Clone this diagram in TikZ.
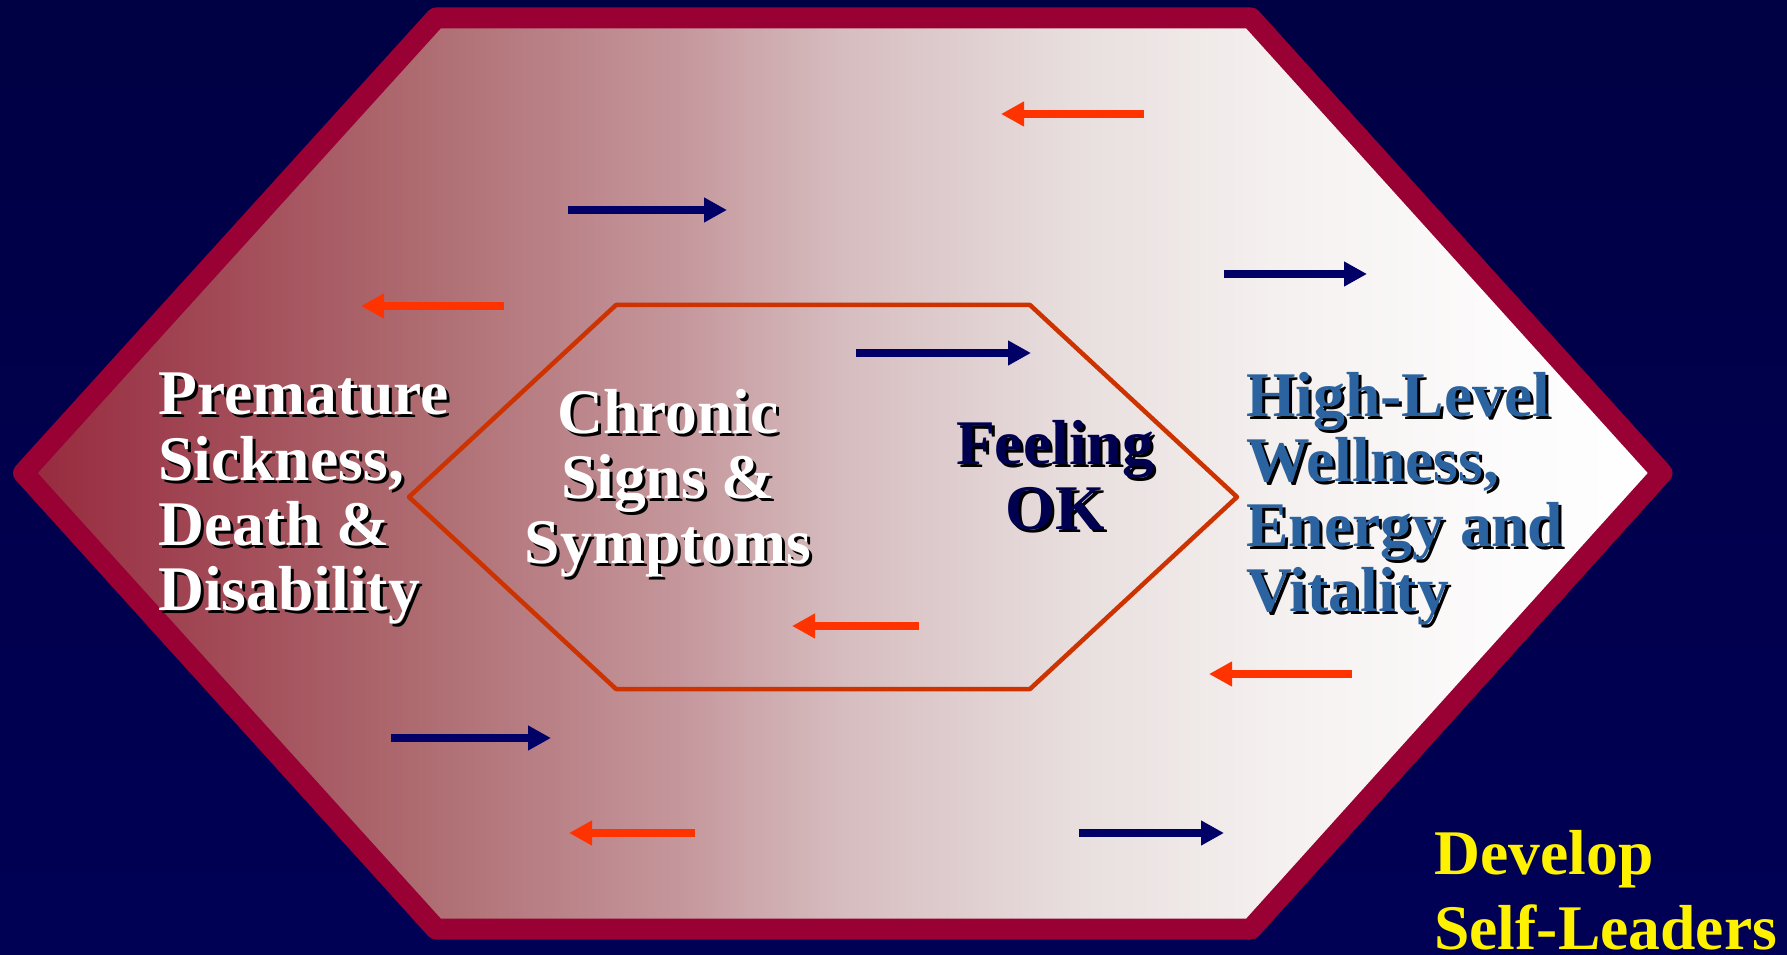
\documentclass[tikz,border=0pt]{standalone}
\usepackage{fontspec}
\setmainfont{Liberation Serif}
\usetikzlibrary{arrows.meta, calc}
\definecolor{bgtop}{RGB}{0,0,68}
\definecolor{bgmid}{RGB}{0,0,32}
\definecolor{bgbot}{RGB}{0,0,85}
\definecolor{rimred}{HTML}{990033}
\definecolor{innerrim}{HTML}{CC3300}
\definecolor{arrred}{HTML}{FF3300}
\definecolor{arrnavy}{HTML}{000066}
\definecolor{wellblue}{HTML}{2B63A0}
\definecolor{oknavy}{HTML}{000050}
% red to white fade of the big hexagon
\pgfdeclarehorizontalshading{hexfade}{100bp}{
    rgb(0bp)=(0.59,0.16,0.24); rgb(25bp)=(0.59,0.16,0.24);
    rgb(37bp)=(0.68,0.42,0.44); rgb(45bp)=(0.77,0.59,0.61);
    rgb(50bp)=(0.84,0.74,0.75); rgb(57bp)=(0.91,0.87,0.87);
    rgb(63bp)=(0.955,0.94,0.935); rgb(70bp)=(0.99,0.985,0.985);
    rgb(75bp)=(1,1,1); rgb(100bp)=(1,1,1)}

\begin{document}
\begin{tikzpicture}[x=0.02cm, y=-0.02cm,
    lbl/.style={font=\bfseries\fontsize{36.2}{37}\selectfont, inner sep=0},
    redarrow/.style={draw=arrred, line width=0.15cm, -{Triangle[length=0.46cm, width=0.47cm]}},
    navyarrow/.style={draw=arrnavy, line width=0.15cm, -{Triangle[length=0.46cm, width=0.47cm]}}]
    \useasboundingbox (0,0) rectangle (1787,955);
    % background
    \shade[top color=bgtop, middle color=bgmid, bottom color=bgbot] (0,0) rectangle (1787,955);

    % outer hexagon
    \path[shade, shading=hexfade, draw=rimred, line width=0.42cm, line join=round]
        (23.5,473) -- (436,18) -- (1251,18) -- (1662,473) -- (1251,929) -- (436,929) -- cycle;

    % inner hexagon
    \draw[line width=0.09cm, draw=innerrim, line join=round]
        (409,497) -- (616,305) -- (1030,305) -- (1237,497) -- (1030,689) -- (616,689) -- cycle;

    % arrows pointing back
    \foreach \i/\xa/\xb/\y in {1/1144/1001/114, 2/504/361/306, 3/919/792/626, 4/1352/1209/674, 5/695/569/833} {
        \coordinate (back\i s) at (\xa,\y);
        \coordinate (back\i e) at (\xb,\y);
        \draw[redarrow] (back\i s) -- (back\i e);
    }
    % arrows pointing ahead
    \foreach \i/\xa/\xb/\y in {1/568/727/210, 2/1224/1367/274, 3/856/1031/353, 4/391/551/738, 5/1079/1224/833} {
        \coordinate (ahead\i s) at (\xa,\y);
        \coordinate (ahead\i e) at (\xb,\y);
        \draw[navyarrow] (ahead\i s) -- (ahead\i e);
    }

    % left stage
    \node[lbl, align=left, anchor=north west, text=black] (premshadow) at (161,376)
        {Premature\\Sickness,\\Death \&\\Disability};
    \node[lbl, align=left, anchor=north west, text=white] (prem) at (158,373)
        {Premature\\Sickness,\\Death \&\\Disability};

    % chronic stage
    \node[lbl, align=center, anchor=north, text=black] (chronshadow) at (671,392)
        {Chronic\\Signs \&\\Symptoms};
    \node[lbl, align=center, anchor=north, text=white] (chron) at (668,389)
        {Chronic\\Signs \&\\Symptoms};

    % feeling ok
    \node[lbl, align=center, anchor=north, text=black] (okshadow) at (1058,423)
        {Feeling\\OK};
    \node[lbl, align=center, anchor=north, text=oknavy] (ok) at (1055,420)
        {Feeling\\OK};

    % right stage
    \node[lbl, align=left, anchor=north west, text=black] (wellshadow) at (1249,375)
        {High-Level\\Wellness,\\Energy and\\Vitality};
    \node[lbl, align=left, anchor=north west, text=wellblue] (well) at (1246,372)
        {High-Level\\Wellness,\\Energy and\\Vitality};

    % corner note
    \node[font=\bfseries\fontsize{36.2}{42.7}\selectfont, inner sep=0, align=left,
        anchor=north west, text=yellow] (develop) at (1434,830)
        {Develop\\Self-Leaders};
\end{tikzpicture}
\end{document}
